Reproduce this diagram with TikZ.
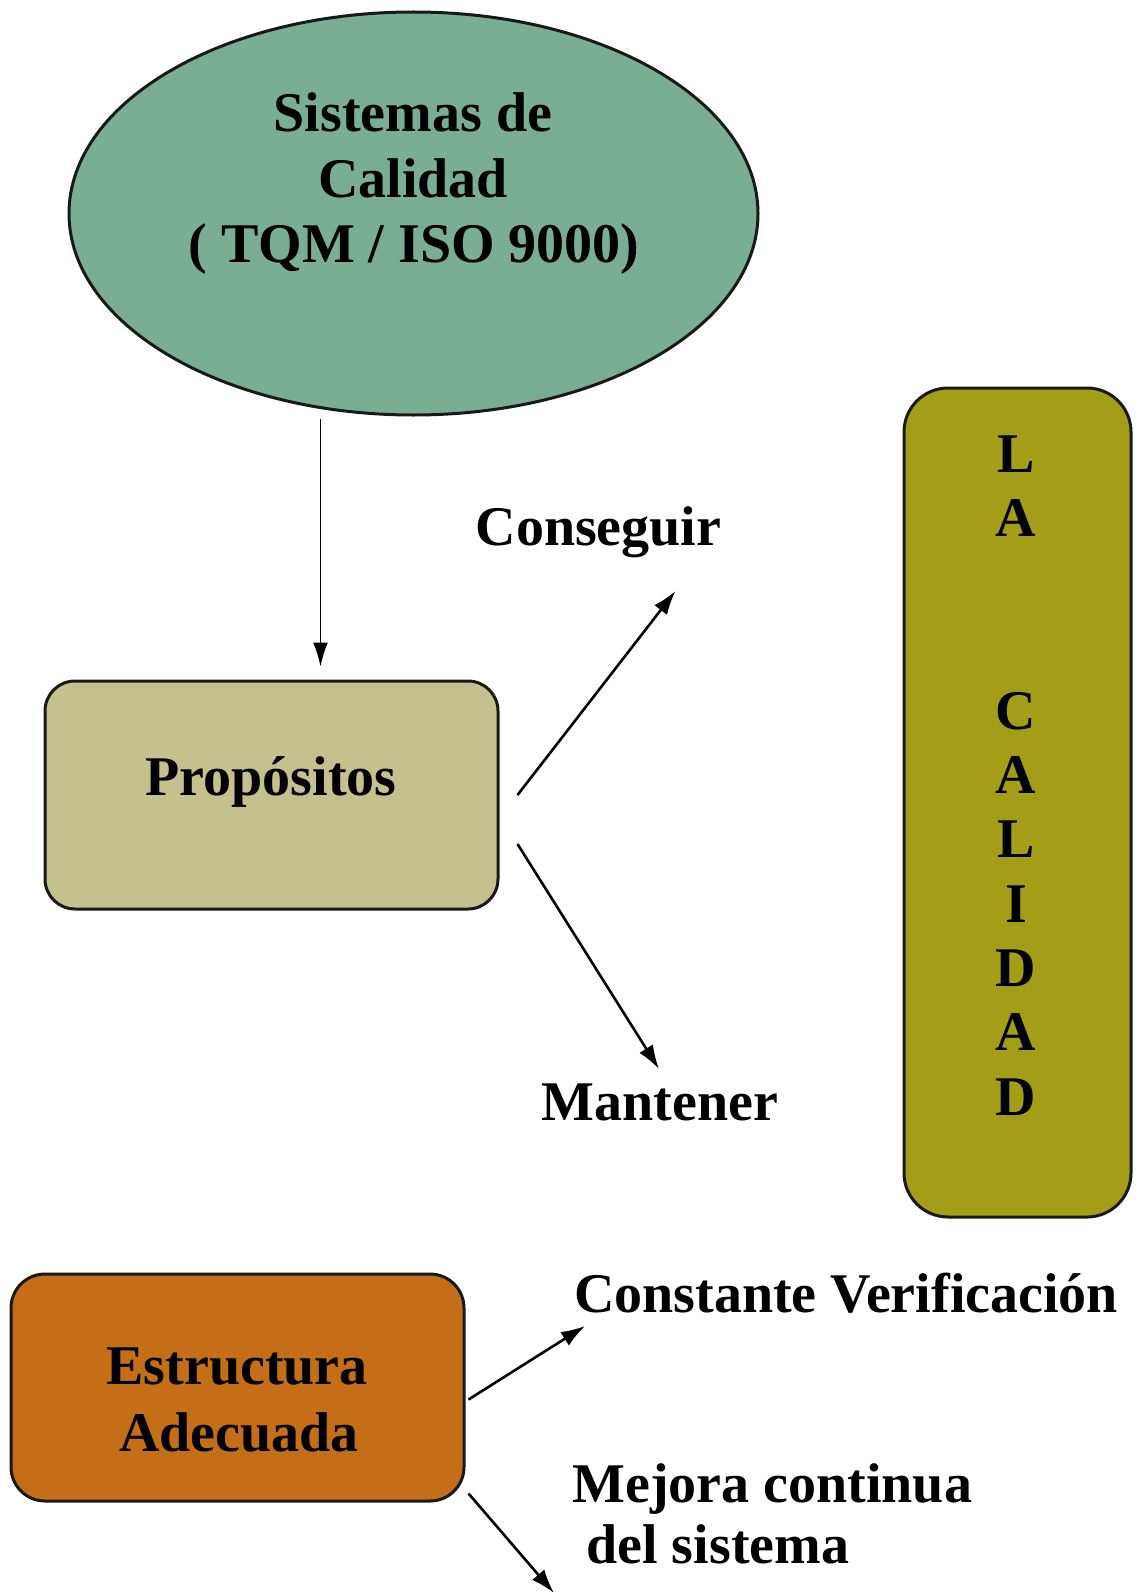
\documentclass[tikz,border=0pt]{standalone}
\usepackage{fontspec}
\setmainfont{Liberation Serif}
\usetikzlibrary{shapes.geometric,arrows.meta,calc}
\definecolor{sysgreen}{RGB}{122,174,148}
\definecolor{propkhaki}{RGB}{196,193,142}
\definecolor{calolive}{RGB}{164,157,24}
\definecolor{estorange}{RGB}{196,110,23}
\begin{document}
\begin{tikzpicture}[x=0.5pt,y=-0.5pt,
  shapeline/.style={draw=black!90, line width=1.5pt, inner sep=0pt},
  roundbox/.style={shapeline, rectangle},
  txt/.style={anchor=base, inner sep=0pt, font=\fontsize{28}{32}\selectfont\bfseries},
  conn/.style={-{Latex[length=12pt,width=8pt]}, line width=1.3pt},
  thinconn/.style={-{Latex[length=12pt,width=7.5pt]}, line width=0.9pt},
]
\useasboundingbox (0,0) rectangle (1135,1595);

% shapes
\node[ellipse, shapeline, fill=sysgreen, minimum width=344.5pt, minimum height=201.5pt] (sys) at (413.5,213.5) {};
\node[roundbox, rounded corners=15pt, fill=propkhaki, minimum width=226.5pt, minimum height=114pt] (prop) at (271.5,795) {};
\node[roundbox, rounded corners=22pt, fill=calolive, minimum width=113.5pt, minimum height=414.5pt] (cal) at (1017.5,802.5) {};
\node[roundbox, rounded corners=17pt, fill=estorange, minimum width=226.5pt, minimum height=113.5pt] (est) at (237.5,1387.5) {};

% texts
\node[txt] (sys1) at (413,132) {Sistemas de};
\node[txt] (sys2) at (413,197) {Calidad};
\node[txt] (sys3) at (414,262) {( TQM / ISO 9000)};
\node[txt] (proptxt) at (271,795) {Propósitos};
\node[txt] (cons) at (598.5,545) {Conseguir};
\node[txt] (mant) at (660,1120) {Mantener};
\foreach \c [count=\i] in {L,A,{},{},C,A,L,I,D,A,D}
  \node[txt] (cal\i) at (1016,{472+64.3*(\i-1)}) {\c};
\node[txt] (est1) at (237,1384) {Estructura};
\node[txt] (est2) at (239,1451) {Adecuada};
\node[txt] (cv) at (846,1312) {Constante Verificación};
\node[txt, anchor=base west] (mej) at (572,1502) {Mejora continua};
\node[txt, anchor=base west] (mej2) at (586,1563) {del sistema};

% connectors
\draw[thinconn] ($(sys.south)+(-93,2)$) -- ($(prop.north)+(49,-13)$);
\draw[conn] ($(prop.east)+(18,0)$) -- ($(cons.base)+(77,46)$);
\draw[conn] ($(prop.east)+(18,49)$) -- ($(mant.base)+(-1,-51)$);
\draw[conn] ($(est.east)+(3,12)$) -- ($(cv.base)+(-261,14)$);
\draw[conn] ($(est.east)+(3,106)$) -- ($(mej.base west)+(-18,91)$);
\end{tikzpicture}
\end{document}
